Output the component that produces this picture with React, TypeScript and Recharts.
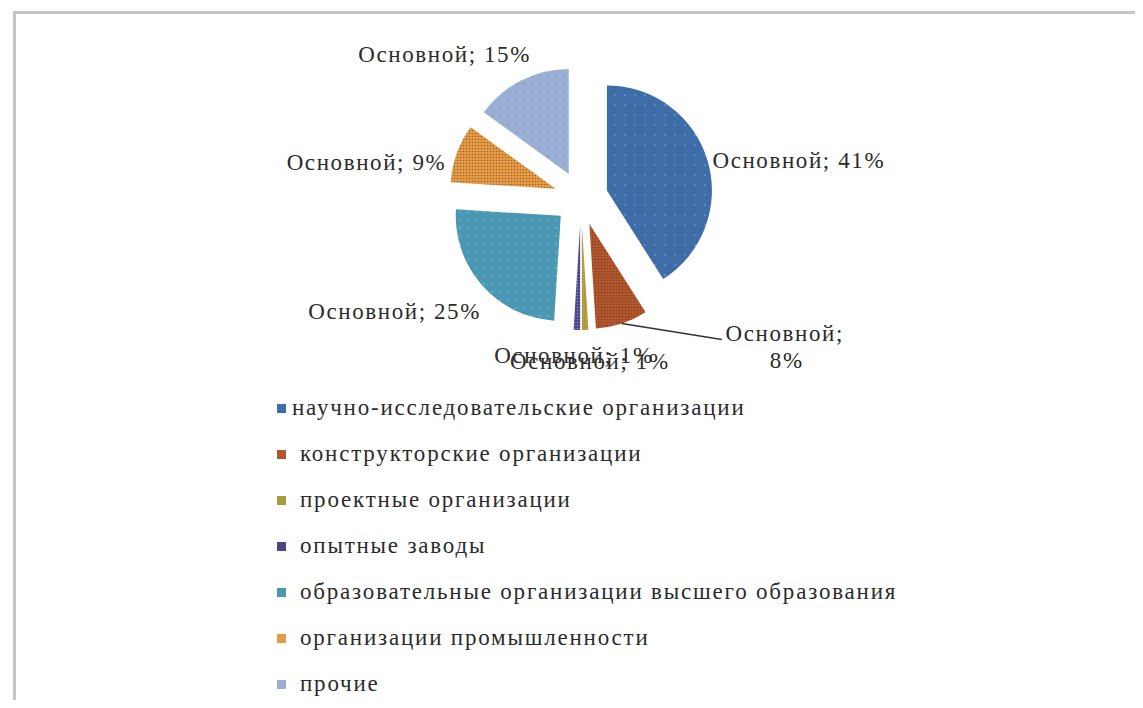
import { PieChart, Pie, Cell, Sector, Legend } from 'recharts'

const categories = [
   'научно-исследовательские организации',
   'конструкторские организации',
   'проектные организации',
   'опытные заводы',
   'образовательные организации высшего образования',
   'организации промышленности',
   'прочие',
]
const shares = [41, 8, 1, 1, 25, 9, 15]
const seriesName = 'Основной'

const colors = ['#3F6DA7', '#B1572E', '#A89B3C', '#4B4787', '#4A98B4', '#E49C46', '#9BAFD5']
const dotColors = ['#7DAEDB', '#8A3D1D', '#D8A050', '#8F8CCB', '#8CC8E0', '#A6622A', '#6E95D2']
const dotSteps = [10, 3, 3, 3, 8, 3, 8]

const data = categories.map((name, i) => ({ name, value: shares[i] }))

const RAD = Math.PI / 180
const EXPLODE = 27
const FONT = "'Liberation Serif', 'Times New Roman', serif"

// label nudges per slice (Excel "best fit" placement)
const labelLayout: { extra: number; anchor: 'start' | 'middle' | 'end'; dx: number; dy: number; leader?: boolean }[] = [
   { extra: 8, anchor: 'start', dx: -3, dy: 2 },
   { extra: 0, anchor: 'middle', dx: 100, dy: 16, leader: true },
   { extra: 25, anchor: 'middle', dx: -12, dy: 1 },
   { extra: 32, anchor: 'middle', dx: 14, dy: 0 },
   { extra: 8, anchor: 'end', dx: 5, dy: 21 },
   { extra: 8, anchor: 'end', dx: -3, dy: 12 },
   { extra: 20, anchor: 'end', dx: 19, dy: -8 },
]

const offset = (midAngle: number, d: number) => [d * Math.cos(-midAngle * RAD), d * Math.sin(-midAngle * RAD)]

const ExplodedSector = (props: any) => {
   const [dx, dy] = offset(props.midAngle, EXPLODE)
   return <Sector { ...props } cx={ props.cx + dx } cy={ props.cy + dy } />
}

const textStyle = { fontFamily: FONT, fontSize: 23, letterSpacing: 1.6, fill: '#2b2b2b' }

const renderLabel = (p: any) => {
   const { cx, cy, midAngle, outerRadius, index, value } = p
   const [ux, uy] = offset(midAngle, 1)
   const sx = cx + EXPLODE * ux
   const sy = cy + EXPLODE * uy
   const L = labelLayout[index]
   if (L.leader) {
      const ex = sx + outerRadius * ux
      const ey = sy + outerRadius * uy
      const tx = ex + L.dx
      const ty = ey + L.dy
      return (
         <g>
            <polyline points={ `${ex},${ey} ${tx},${ty}` } stroke="#333" strokeWidth={ 1.5 } fill="none" />
            <text x={ tx + 63 } y={ ty - 7 } textAnchor="middle" dominantBaseline="central" style={ textStyle }>
               <tspan x={ tx + 63 } dy={ 0 }>{ seriesName };</tspan>
               <tspan x={ tx + 65 } dy={ 27 }>{ value }%</tspan>
            </text>
         </g>
      )
   }
   const r = outerRadius + L.extra
   return (
      <text x={ sx + r * ux + L.dx } y={ sy + r * uy + L.dy } textAnchor={ L.anchor } dominantBaseline="central" style={ textStyle }>
         { `${seriesName}; ${value}%` }
      </text>
   )
}

const renderLegend = () => (
   <div style={ { fontFamily: FONT, fontSize: 23, letterSpacing: 1.8, color: '#2b2b2b' } }>
      { data.map((d, i) => (
         <div key={ d.name } style={ { height: 46, display: 'flex', alignItems: 'center' } }>
            <span style={ { width: 9, height: 9, background: colors[i], marginRight: i === 0 ? 6 : 14, flex: 'none' } } />
            <span style={ { whiteSpace: 'nowrap' } }>{ d.name }</span>
         </div>
      )) }
   </div>
)

export default function App() {
   return (
      <div style={ { position: 'relative', width: 1143, height: 708, margin: -8, background: '#fff', overflow: 'hidden' } }>
         <div style={ { position: 'absolute', left: 13, top: 11, width: 1200, height: 800, borderLeft: '3px solid #c6c6c6', borderTop: '3px solid #c6c6c6' } } />
         <div style={ { position: 'absolute', left: 0, top: 0 } }>
            <PieChart width={ 1143 } height={ 708 } margin={ { top: 0, right: 0, bottom: 0, left: 0 } }>
               <defs>
                  { colors.map((c, i) => (
                     <pattern key={ c } id={ `fill${i}` } width={ dotSteps[i] } height={ dotSteps[i] } patternUnits="userSpaceOnUse">
                        <rect width={ dotSteps[i] } height={ dotSteps[i] } fill={ c } />
                        <circle cx={ dotSteps[i] / 2 } cy={ dotSteps[i] / 2 } r={ 0.8 } fill={ dotColors[i] } />
                     </pattern>
                  )) }
               </defs>
               <Pie
                  data={ data }
                  dataKey="value"
                  nameKey="name"
                  cx={ 581 }
                  cy={ 198 }
                  outerRadius={ 105 }
                  startAngle={ 90 }
                  endAngle={ -270 }
                  stroke="none"
                  label={ renderLabel }
                  labelLine={ false }
                  shape={ ExplodedSector }
                  isAnimationActive={ false }
               >
                  { data.map((d, i) => (
                     <Cell key={ d.name } fill={ `url(#fill${i})` } />
                  )) }
               </Pie>
               <Legend
                  layout="vertical"
                  verticalAlign="middle"
                  align="center"
                  content={ renderLegend }
                  wrapperStyle={ { left: 277, top: 385, width: 820 } }
               />
            </PieChart>
         </div>
      </div>
   )
}
